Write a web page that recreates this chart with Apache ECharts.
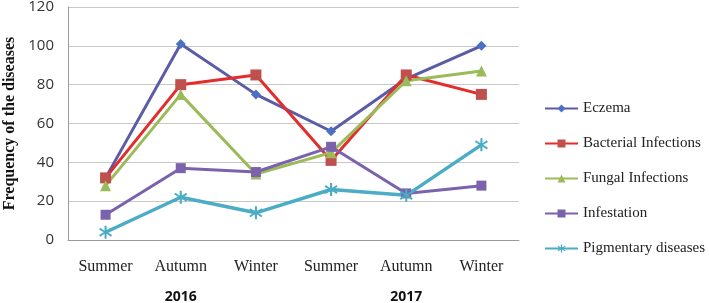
<!DOCTYPE html>
<html>
<head>
<meta charset="utf-8">
<style>
  html, body { margin: 0; padding: 0; background: #fff; }
  #chart { width: 709px; height: 303px; }
</style>
<script src="https://cdn.jsdelivr.net/npm/echarts@6/dist/echarts.min.js"></script>
</head>
<body>
<div id="chart"></div>
<script>
  // data
  const seasons = ['Summer', 'Autumn', 'Winter', 'Summer', 'Autumn', 'Winter'];
  const years = ['', '2016', '', '', '2017', ''];
  const yTicks = [0, 20, 40, 60, 80, 100, 120];

  const eczema = [32, 101, 75, 56, 83, 100];
  const bacterial = [32, 80, 85, 41, 85, 75];
  const fungal = [28, 75, 34, 45, 82, 87];
  const infestation = [13, 37, 35, 48, 24, 28];
  const pigmentary = [4, 22, 14, 26, 23, 49];

  const chart = echarts.init(document.getElementById('chart'));

  const star = 'path://M-1,-6L1,-6L1,-1.4L5.2,-4.2L6.2,-2.6L1.8,0L6.2,2.6L5.2,4.2L1,1.4L1,6L-1,6L-1,1.4L-5.2,4.2L-6.2,2.6L-1.8,0L-6.2,-2.6L-5.2,-4.2L-1,-1.4Z';

  // one line series, Excel-like look
  function line(name, data, lineColor, markColor, symbol, size, width) {
    return {
      name: name,
      type: 'line',
      data: data,
      symbol: symbol,
      symbolSize: size,
      showSymbol: true,
      lineStyle: { color: lineColor, width: width || 3 },
      itemStyle: { color: markColor },
      emphasis: { disabled: true }
    };
  }

  chart.setOption({
    animation: false,
    grid: { left: 68, right: 190, top: 7, bottom: 63, outerBoundsMode: 'none' },
    legend: {
      orient: 'vertical',
      left: 539,
      top: 96,
      itemGap: 20,
      itemWidth: 33,
      itemHeight: 10,
      textStyle: { fontFamily: 'Liberation Serif', fontSize: 15, color: '#222' },
      data: ['Eczema', 'Bacterial Infections', 'Fungal Infections', 'Infestation', 'Pigmentary diseases']
    },
    xAxis: [{
      type: 'category',
      data: seasons,
      boundaryGap: true,
      axisLine: { lineStyle: { color: '#9a9a9a', width: 1 } },
      axisTick: { show: false },
      axisLabel: { margin: 19, fontFamily: 'Liberation Serif', fontSize: 16, color: '#222' }
    }, {
      type: 'category',
      data: years,
      position: 'bottom',
      offset: 42,
      boundaryGap: true,
      axisLine: { show: false },
      axisTick: { show: false },
      axisLabel: { interval: 0, fontFamily: 'Open Sans', fontWeight: 'bold', fontSize: 14, color: '#111' }
    }],
    yAxis: {
      type: 'value',
      min: yTicks[0],
      max: yTicks[yTicks.length - 1],
      interval: 20,
      name: 'Frequency of the diseases',
      nameLocation: 'middle',
      nameGap: 47,
      nameTextStyle: { fontFamily: 'Liberation Serif', fontWeight: 'bold', fontSize: 16, color: '#111' },
      axisLine: { show: true, lineStyle: { color: '#9a9a9a', width: 1 } },
      axisTick: { show: false },
      axisLabel: { margin: 14, fontFamily: 'Open Sans', fontSize: 15, color: '#333' },
      splitLine: { lineStyle: { color: '#c8c8c8', width: 1 } }
    },
    series: [
      line('Eczema', eczema, '#5b5ba6', '#4a72c4', 'diamond', 10),
      line('Bacterial Infections', bacterial, '#e52b2b', '#c0504d', 'rect', 11),
      line('Fungal Infections', fungal, '#9bbb59', '#9bbb59', 'triangle', 11),
      line('Infestation', infestation, '#7a62ad', '#7a62ad', 'rect', 10),
      line('Pigmentary diseases', pigmentary, '#4bacc6', '#4bacc6', star, 13, 3.5)
    ]
  });
</script>
</body>
</html>
